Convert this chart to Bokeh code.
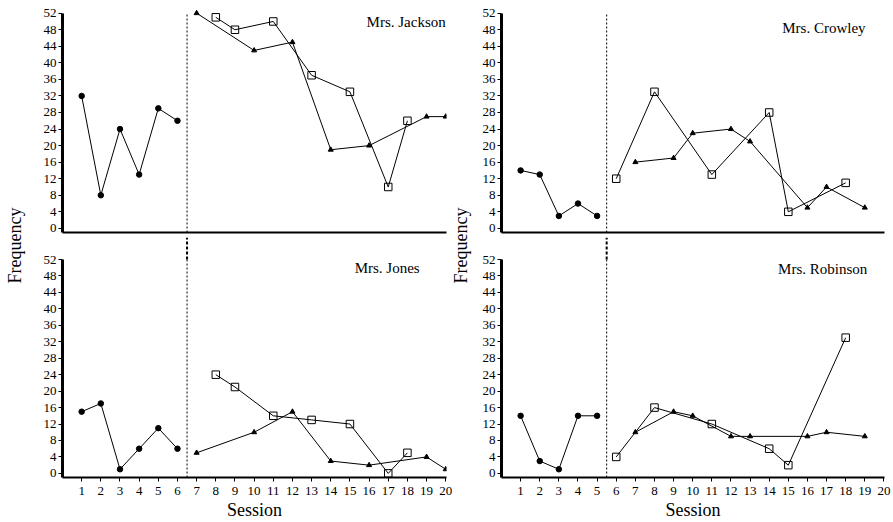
from bokeh.plotting import figure
from bokeh.layouts import row, column
from bokeh.models import Range1d, FixedTicker, Label
from bokeh.embed import file_html
from bokeh.resources import INLINE

FONT = "Liberation Serif"

# ---------------- data ----------------
y_ticks = [0, 4, 8, 12, 16, 20, 24, 28, 32, 36, 40, 44, 48, 52]
x_ticks = list(range(1, 21))
x_tick_labels = [str(v) for v in x_ticks]

jackson_base_x = [1, 2, 3, 4, 5, 6]
jackson_base_y = [32, 8, 24, 13, 29, 26]
jackson_sq_x = [8, 9, 11, 13, 15, 17, 18]
jackson_sq_y = [51, 48, 50, 37, 33, 10, 26]
jackson_tri_x = [7, 10, 12, 14, 16, 19, 20]
jackson_tri_y = [52, 43, 45, 19, 20, 27, 27]
jackson_phase = 6.5

crowley_base_x = [1, 2, 3, 4, 5]
crowley_base_y = [14, 13, 3, 6, 3]
crowley_sq_x = [6, 8, 11, 14, 15, 18]
crowley_sq_y = [12, 33, 13, 28, 4, 11]
crowley_tri_x = [7, 9, 10, 12, 13, 16, 17, 19]
crowley_tri_y = [16, 17, 23, 24, 21, 5, 10, 5]
crowley_phase = 5.5

jones_base_x = [1, 2, 3, 4, 5, 6]
jones_base_y = [15, 17, 1, 6, 11, 6]
jones_sq_x = [8, 9, 11, 13, 15, 17, 18]
jones_sq_y = [24, 21, 14, 13, 12, 0, 5]
jones_tri_x = [7, 10, 12, 14, 16, 19, 20]
jones_tri_y = [5, 10, 15, 3, 2, 4, 1]
jones_phase = 6.5

robinson_base_x = [1, 2, 3, 4, 5]
robinson_base_y = [14, 3, 1, 14, 14]
robinson_sq_x = [6, 8, 11, 14, 15, 18]
robinson_sq_y = [4, 16, 12, 6, 2, 33]
robinson_tri_x = [7, 9, 10, 12, 13, 16, 17, 19]
robinson_tri_y = [10, 15, 14, 9, 9, 9, 10, 9]
robinson_phase = 5.5

names = ["Mrs. Jackson", "Mrs. Crowley", "Mrs. Jones", "Mrs. Robinson"]

# ---------------- layout constants ----------------
Y_MIN, Y_MAX = -1, 52
TOP_FRAME_H = 232
TOP_BORDER_B = 5
BOT_FRAME_H = 240
TOP_PX = 4.138
BOT_PX = 4.113
TOP_RANGE_MAX = Y_MIN + TOP_FRAME_H / TOP_PX
BOT_RANGE_MAX = Y_MIN + BOT_FRAME_H / BOT_PX
COL_H = 520


def panel(bx, by, sx, sy, tx, ty, phase, name, name_x, name_y, top,
          left_border, frame_w, right_border, x_end):
    y_range = Range1d(Y_MIN, TOP_RANGE_MAX if top else BOT_RANGE_MAX)
    p = figure(frame_width=frame_w, frame_height=TOP_FRAME_H if top else BOT_FRAME_H,
               x_range=Range1d(0, x_end), y_range=y_range,
               output_backend="svg", toolbar_location=None,
               min_border_left=left_border, min_border_right=right_border,
               min_border_top=0, min_border_bottom=TOP_BORDER_B if top else 0)
    p.grid.visible = False
    p.outline_line_color = None
    p.background_fill_color = None
    p.border_fill_color = None

    # y axis
    ya = p.yaxis[0]
    ya.ticker = FixedTicker(ticks=y_ticks)
    ya.bounds = (Y_MIN, Y_MAX)
    ya.major_tick_out = 4
    ya.major_tick_in = 0
    ya.minor_tick_out = 0
    ya.minor_tick_in = 0
    ya.major_label_standoff = 2
    ya.major_label_text_font = FONT
    ya.major_label_text_font_size = "13px"
    ya.major_label_text_color = "black"
    ya.axis_line_width = 3
    ya.axis_line_color = "black"
    ya.major_tick_line_color = "black"

    xa = p.xaxis[0]
    xa.axis_line_width = 2
    xa.axis_line_color = "black"
    xa.minor_tick_out = 0
    xa.minor_tick_in = 0
    xa.major_tick_in = 0
    if top:
        xa.ticker = FixedTicker(ticks=[])
        xa.major_tick_out = 0
        xa.major_label_standoff = 0
        xa.major_label_text_font_size = "0px"
    else:
        xa.ticker = FixedTicker(ticks=x_ticks)
        xa.major_label_overrides = {t: l for t, l in zip(x_ticks, x_tick_labels)}
        xa.major_tick_out = 4
        xa.major_label_standoff = 5
        xa.major_label_text_font = FONT
        xa.major_label_text_font_size = "13px"
        xa.major_label_text_color = "black"
        xa.major_tick_line_color = "black"
        xa.axis_label = "Session"
        xa.axis_label_text_font = FONT
        xa.axis_label_text_font_size = "18px"
        xa.axis_label_text_font_style = "normal"
        xa.axis_label_text_color = "black"
        xa.axis_label_standoff = 2

    # phase-change line
    p.segment(x0=[phase], y0=[Y_MIN], x1=[phase], y1=[Y_MAX],
              line_color="black", line_width=1, line_dash="2 2")
    if not top:
        p.segment(x0=[phase], y0=[Y_MAX], x1=[phase], y1=[BOT_RANGE_MAX],
                  line_color="black", line_width=2, line_dash="3 2")

    # series
    p.line(bx, by, line_color="black", line_width=1)
    p.line(sx, sy, line_color="black", line_width=1)
    p.line(tx, ty, line_color="black", line_width=1)
    p.scatter(bx, by, marker="circle", size=5.5, fill_color="black", line_color="black")
    p.scatter(tx, ty, marker="triangle", size=5, fill_color="black", line_color="black")
    p.scatter(sx, sy, marker="square", size=7.5, fill_color=None, line_color="black",
              line_width=1)

    p.add_layout(Label(x=name_x, y=name_y, text=name, text_align="right",
                       text_baseline="middle", text_font=FONT,
                       text_font_size="15px", text_color="black"))
    return p


def freq_fig(width, center_x):
    p = figure(width=width, height=COL_H, output_backend="svg", toolbar_location=None,
               x_axis_location=None, y_axis_location=None, min_border=0,
               x_range=Range1d(0, 1), y_range=Range1d(0, 1))
    p.grid.visible = False
    p.outline_line_color = None
    p.add_layout(Label(x=center_x, y=COL_H - 245, x_units="screen", y_units="screen",
                       text="Frequency", angle=90, angle_units="deg",
                       text_align="center", text_baseline="middle",
                       text_font=FONT, text_font_size="18px", text_color="black"))
    return p


L_LEFT, L_W, L_RIGHT, L_XEND = 36, 384, 6, 20.04
R_LEFT, R_W, R_RIGHT, R_XEND = 29, 383, 9, 20.03

tl = panel(jackson_base_x, jackson_base_y, jackson_sq_x, jackson_sq_y,
           jackson_tri_x, jackson_tri_y, jackson_phase, names[0], 20.0, 49.8, True,
           L_LEFT, L_W, L_RIGHT, L_XEND)
bl = panel(jones_base_x, jones_base_y, jones_sq_x, jones_sq_y,
           jones_tri_x, jones_tri_y, jones_phase, names[2], 18.64, 50.0, False,
           L_LEFT, L_W, L_RIGHT, L_XEND)
tr = panel(crowley_base_x, crowley_base_y, crowley_sq_x, crowley_sq_y,
           crowley_tri_x, crowley_tri_y, crowley_phase, names[1], 19.04, 48.3, True,
           R_LEFT, R_W, R_RIGHT, R_XEND)
br = panel(robinson_base_x, robinson_base_y, robinson_sq_x, robinson_sq_y,
           robinson_tri_x, robinson_tri_y, robinson_phase, names[3], 19.13, 49.8, False,
           R_LEFT, R_W, R_RIGHT, R_XEND)

layout = row(freq_fig(26, 14), column(tl, bl), freq_fig(20, 8), column(tr, br))

open("out.html", "w").write(file_html(layout, INLINE))
